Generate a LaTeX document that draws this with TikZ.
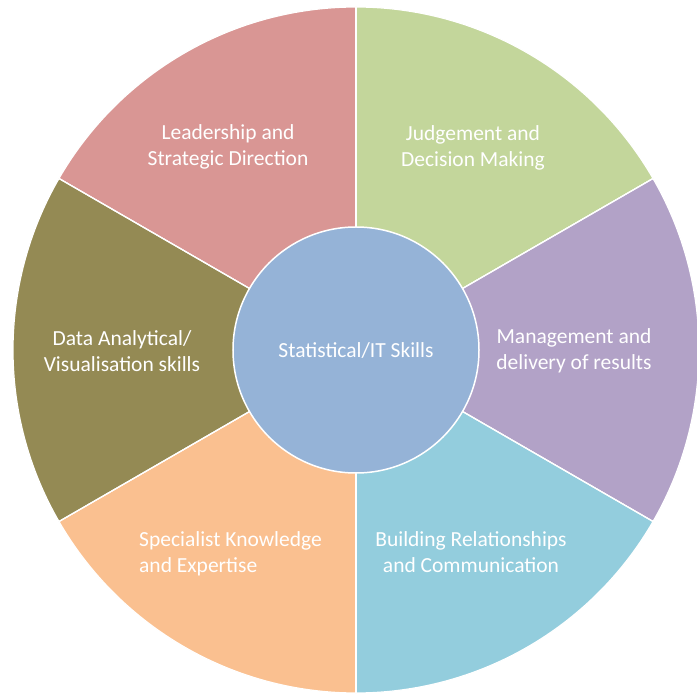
\documentclass[tikz,border=0pt]{standalone}
\usepackage{fontspec}
\setmainfont{Carlito}
\usepackage{xcolor}
\usepackage{tikz}
\usetikzlibrary{positioning}
\usetikzlibrary{calc}
\definecolor{skred}{HTML}{D99694}
\definecolor{skgreen}{HTML}{C3D69B}
\definecolor{skpurple}{HTML}{B2A2C7}
\definecolor{skblue}{HTML}{93CDDD}
\definecolor{skorange}{HTML}{FAC090}
\definecolor{skolive}{HTML}{948A54}
\definecolor{skhub}{HTML}{95B3D7}
\tikzset{
  sk_sec/.style = {draw=white, line width=1.2bp},% sector of the wheel
  sk_txt/.style = {align=center, inner sep=0pt, text=white,
    font=\fontsize{21.5bp}{26bp}\selectfont},% sector label
  sk_hub/.style = {circle, draw=white, line width=1.5bp, fill=skhub,
    minimum size=246bp, inner sep=0pt, text=white,
    font=\fontsize{21.5bp}{26bp}\selectfont}% centre
}
\begin{document}
\begin{tikzpicture}[x=1bp,y=1bp]
\useasboundingbox (-356,-346) rectangle (341,350);
\coordinate (o) at (0,0);

\fill[skred,sk_sec] (o) -- (90:343) arc[start angle=90,end angle=150,radius=343] -- cycle;
\fill[skgreen,sk_sec] (o) -- (30:343) arc[start angle=30,end angle=90,radius=343] -- cycle;
\fill[skpurple,sk_sec] (o) -- (-30:343) arc[start angle=-30,end angle=30,radius=343] -- cycle;
\fill[skblue,sk_sec] (o) -- (-90:343) arc[start angle=-90,end angle=-30,radius=343] -- cycle;
\fill[skorange,sk_sec] (o) -- (-150:343) arc[start angle=-150,end angle=-90,radius=343] -- cycle;
\fill[skolive,sk_sec] (o) -- (150:343) arc[start angle=150,end angle=210,radius=343] -- cycle;
\foreach \a in {90,30,-30,-90,-150,150}
  \draw[white,line width=1.2bp] (o) -- (\a:343);

\node [sk_hub] (hub) at (o) {Statistical/IT Skills};

\node [sk_txt] (lead) at (-128,203) {Leadership and\\Strategic Direction};
\node [sk_txt] (judg) at (117,202) {Judgement and\\Decision Making};
\node [sk_txt] (mgmt) at (218,-1) {Management and\\delivery of results};
\node [sk_txt] (bldg) at (115,-202) {Building Relationships\\and Communication};
\node [sk_txt,align=left,anchor=west] (spec) at (-217,-204) {Specialist Knowledge\\and Expertise};
\node [sk_txt] (data) at (-234,-1) {Data Analytical/\\Visualisation skills};
\end{tikzpicture}
\end{document}
